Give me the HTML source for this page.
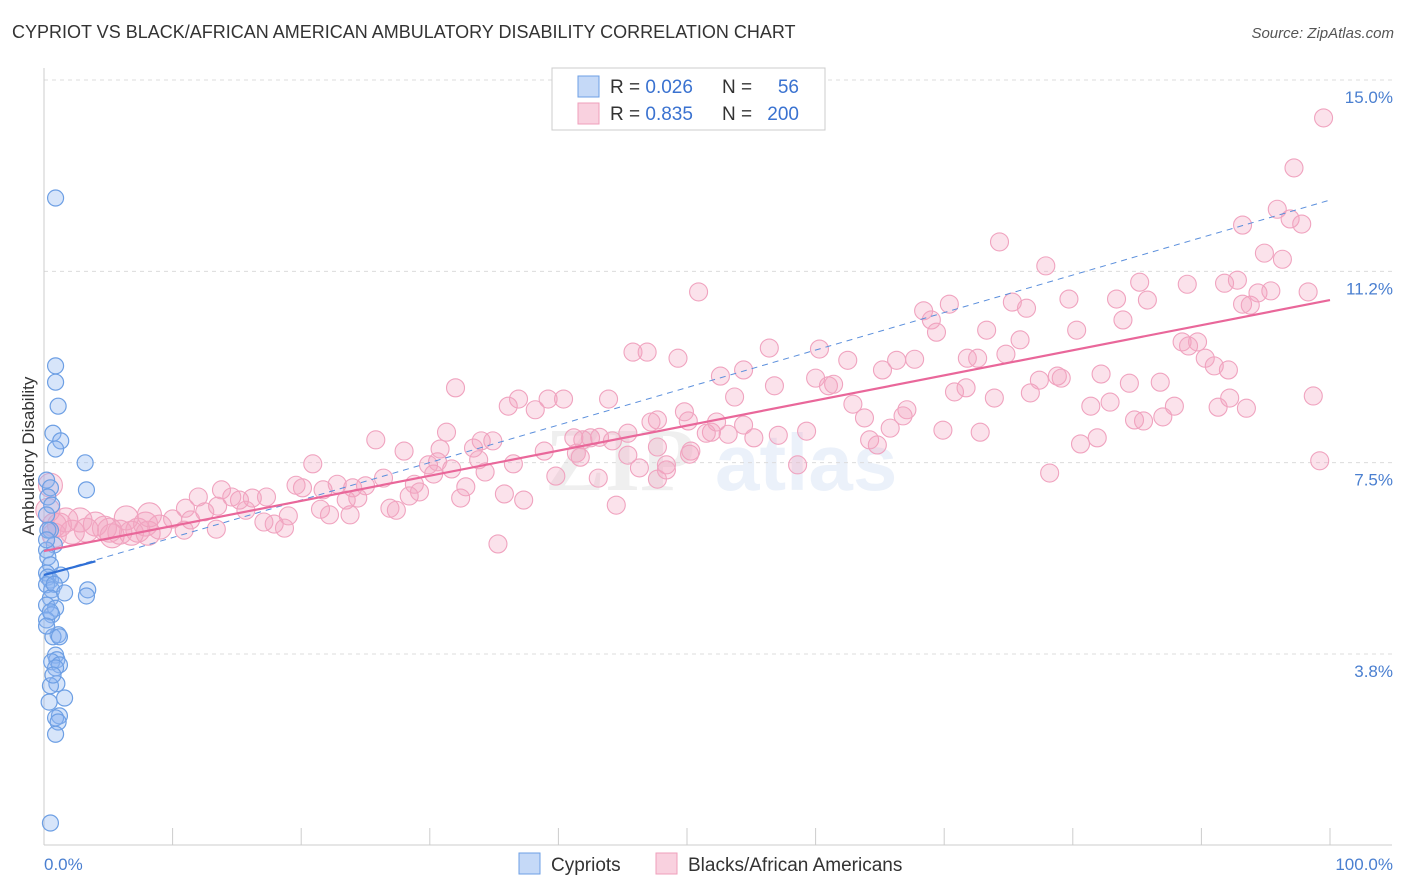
<!DOCTYPE html>
<html><head><meta charset="utf-8">
<style>
body{margin:0;background:#fff;font-family:"Liberation Sans",sans-serif;}
#wrap{position:relative;width:1406px;height:892px;overflow:hidden;}
.t{position:absolute;white-space:nowrap;}
</style></head><body>
<div id="wrap">
<div class="t" style="left:12px;top:22px;font-size:18px;color:#333;">CYPRIOT VS BLACK/AFRICAN AMERICAN AMBULATORY DISABILITY CORRELATION CHART</div>
<div class="t" style="right:12px;top:25px;font-size:15px;color:#555;font-style:italic;">Source: ZipAtlas.com</div>
<svg id="svg" width="1406" height="892" style="position:absolute;left:0;top:0"></svg>
</div>
<script>
const yTicks=[15.0,11.25,7.5,3.75];
const yTickLabels=["15.0%","11.2%","7.5%","3.8%"];
const xTickLabels=["0.0%","100.0%"];
const pinkX=[99.5,97.2,95.9,96.9,97.8,93.2,74.3,96.3,94.9,77.9,85.2,88.9,91.8,92.8,95.4,98.3,94.4,93.2,93.8,79.7,83.4,85.8,75.3,76.4,70.4,68.4,69.0,83.9,80.3,73.3,69.4,75.9,88.5,89.7,89.0,74.8,71.8,72.6,67.7,66.3,62.5,60.3,56.4,45.8,46.9,49.3,50.9,90.3,91.0,92.1,82.2,79.1,77.4,78.8,84.4,86.8,76.7,71.7,70.8,73.9,65.2,60.0,61.0,61.4,56.8,52.6,54.4,53.7,62.9,67.1,66.8,63.8,65.8,64.2,64.8,81.4,82.9,87.9,87.0,85.5,84.8,91.3,92.2,93.5,98.7,81.9,80.6,78.2,99.2,69.9,72.8,59.3,57.1,55.2,54.4,53.2,51.9,51.5,58.6,52.3,50.1,49.8,47.7,47.2,43.9,45.4,43.2,42.5,41.2,41.9,36.9,38.2,39.2,40.4,36.1,32.0,31.3,30.8,30.6,34.0,34.9,33.4,33.8,36.5,38.9,41.4,41.7,44.2,45.4,47.7,48.4,46.3,47.7,50.3,50.2,48.4,28.0,25.8,29.9,30.3,31.7,32.8,34.3,35.8,37.3,39.8,43.1,44.5,35.3,32.4,29.2,28.8,28.4,26.9,27.4,26.4,25.0,24.0,24.4,22.8,23.5,21.7,20.9,20.1,19.6,21.5,22.2,23.8,19.0,18.7,17.9,17.1,17.3,16.2,15.7,15.2,14.6,13.8,13.5,12.5,12.0,11.0,11.4,10.0,13.4,10.9,9.0,7.9,8.1,7.3,6.4,5.9,5.1,4.7,4.0,3.3,2.8,2.2,1.7,1.2,0.8,0.5,0.3,0.8,8.2,6.8,5.3];
const pinkY=[14.59,13.61,12.80,12.61,12.51,12.49,12.16,11.82,11.94,11.69,11.37,11.33,11.35,11.41,11.20,11.18,11.16,10.94,10.92,11.04,11.04,11.02,10.98,10.86,10.94,10.81,10.63,10.63,10.43,10.43,10.39,10.24,10.20,10.20,10.12,9.96,9.88,9.88,9.86,9.84,9.84,10.06,10.08,10.00,10.00,9.88,11.18,9.88,9.73,9.65,9.57,9.49,9.45,9.53,9.39,9.41,9.20,9.30,9.22,9.10,9.65,9.49,9.34,9.37,9.34,9.53,9.65,9.12,8.98,8.87,8.75,8.71,8.51,8.28,8.18,8.94,9.02,8.94,8.73,8.65,8.67,8.92,9.10,8.90,9.14,8.32,8.20,7.63,7.87,8.47,8.43,8.45,8.37,8.32,8.57,8.39,8.43,8.41,7.79,8.63,8.65,8.83,8.67,8.63,9.08,8.41,8.33,8.32,8.32,8.28,9.08,8.87,9.08,9.08,8.94,9.30,8.43,8.10,7.85,8.26,8.26,8.12,7.89,7.81,8.06,8.02,7.94,8.26,7.98,8.14,7.79,7.73,7.51,8.06,8.00,7.69,8.06,8.28,7.79,7.61,7.71,7.36,7.65,7.22,7.10,7.57,7.53,7.00,6.24,7.14,7.26,7.41,7.18,6.94,6.90,7.53,7.38,7.34,7.14,7.41,7.10,7.30,7.81,7.34,7.39,6.92,6.81,6.81,6.79,6.55,6.63,6.67,7.16,7.14,6.90,7.10,7.16,7.30,6.98,6.87,7.16,6.94,6.71,6.73,6.53,6.51,6.57,6.63,6.45,6.51,6.75,6.47,6.51,6.55,6.63,6.51,6.71,6.47,6.71,6.61,6.61,7.39,6.90,6.41,6.81,6.45,6.40];
const blueX=[0.9,0.9,0.9,1.1,0.7,1.3,0.9,3.2,3.3,0.2,0.5,0.3,0.6,0.2,0.5,0.8,0.2,0.3,0.5,0.2,0.3,0.5,1.3,0.2,0.6,0.8,3.4,3.3,1.6,0.5,0.2,0.9,0.6,0.2,1.1,0.7,1.2,0.9,1.0,0.6,1.2,0.9,1.0,0.5,1.6,1.2,0.9,1.1,0.9,0.5,0.3,0.2,0.5,0.2,0.7,0.4];
const blueY=[13.02,9.73,9.41,8.94,8.41,8.26,8.10,7.83,7.30,7.49,7.34,7.16,7.00,6.81,6.51,6.22,6.12,5.98,5.83,5.67,5.59,5.53,5.63,5.44,5.34,5.45,5.34,5.22,5.28,5.18,5.04,4.98,4.85,4.75,4.46,4.42,4.42,4.06,3.97,3.93,3.87,3.81,3.50,3.46,3.22,2.87,2.83,2.75,2.51,0.77,6.51,6.32,4.91,4.63,3.67,3.14];
const pinkTrend=[[0,6.1],[100,11.02]];
const blueTrend=[[0,5.63],[100,12.98]];
const blueSolid=[[0,5.63],[4,5.9]];

const NS="http://www.w3.org/2000/svg";
const svg=document.getElementById('svg');
const X0=44,X1=1330;
function xs(p){return X0+(X1-X0)*p/100;}
function ys(v){return 97+(15-v)*51.02;}
function mk(tag,attrs,parent){const e=document.createElementNS(NS,tag);for(const k in attrs)e.setAttribute(k,attrs[k]);(parent||svg).appendChild(e);return e;}

let wm=mk('text',{x:620,y:490,'text-anchor':'middle','font-size':90,'font-family':'Liberation Serif, serif','fill':'#000','opacity':0.06,'font-weight':'bold'});


wm.textContent='ZIP';
let wm2=mk('text',{x:715,y:490,'text-anchor':'start','font-size':80,'font-family':'Liberation Sans, sans-serif','fill':'#4a7fd0','opacity':0.10,'font-weight':'bold'});


wm2.textContent='atlas';

yTicks.forEach((t,i)=>{
  const gy=ys(t)-17;
  const g=mk('line',{x1:X0,x2:1392,y1:gy,y2:gy,stroke:'#dcdcdc','stroke-dasharray':'4,4','stroke-width':1});
  
  
  const tx=mk('text',{x:1393,y:ys(t)+6,'text-anchor':'end','font-size':17,fill:'#4a7fd0'});
  
  
  tx.textContent=yTickLabels[i];
});
let ax=mk('line',{x1:X0,x2:X0,y1:68,y2:845,stroke:'#ccc'});


let bx=mk('line',{x1:X0,x2:1392,y1:845,y2:845,stroke:'#ccc'});


for(let i=0;i<=10;i++){
  const tk=mk('line',{x1:xs(i*10),x2:xs(i*10),y1:828,y2:845,stroke:'#ccc'});
  
  
}
let xl0=mk('text',{x:44,y:870,'font-size':17,fill:'#4a7fd0'});


xl0.textContent=xTickLabels[0];
let xl1=mk('text',{x:1393,y:870,'text-anchor':'end','font-size':17,fill:'#4a7fd0'});


xl1.textContent=xTickLabels[1];
let yt=mk('text',{x:34,y:456,'text-anchor':'middle','font-size':17,fill:'#333',transform:'rotate(-90 34 456)'});


yt.textContent='Ambulatory Disability';

const nP=Math.min(pinkX.length,pinkY.length);
for(let i=0;i<nP;i++){
  const p=pinkX[i];
  const c=mk('circle',{cx:xs(p),cy:ys(pinkY[i]),r:p<10?12:9,fill:'rgba(244,164,192,0.32)',stroke:'#f0a3bf','stroke-width':1.1});
  
  
}
const nB=Math.min(blueX.length,blueY.length);
for(let i=0;i<nB;i++){
  const c=mk('circle',{cx:xs(blueX[i]),cy:ys(blueY[i]),r:8,fill:'rgba(140,180,240,0.35)',stroke:'#6d9fe4','stroke-width':1.2});
  
  
}
let bt=mk('line',{x1:xs(blueTrend[0][0]),y1:ys(blueTrend[0][1]),x2:xs(blueTrend[1][0]),y2:ys(blueTrend[1][1]),stroke:'#5b8fdc','stroke-width':1,'stroke-dasharray':'6,5'});


let pt=mk('line',{x1:xs(pinkTrend[0][0]),y1:ys(pinkTrend[0][1]),x2:xs(pinkTrend[1][0]),y2:ys(pinkTrend[1][1]),stroke:'#e9679a','stroke-width':2.2});


let bs=mk('line',{x1:xs(blueSolid[0][0]),y1:ys(blueSolid[0][1]),x2:xs(blueSolid[1][0]),y2:ys(blueSolid[1][1]),stroke:'#2f6fd6','stroke-width':2.2});



let lg=mk('rect',{x:552,y:68,width:273,height:62,fill:'#fff',stroke:'#ccc'});


const rows=[["0.026","56",'rgba(140,180,240,0.5)','#6d9fe4'],["0.835","200",'rgba(244,164,192,0.5)','#ef9fbb']];
rows.forEach((r,i)=>{
  const yy=86+i*27;
  const sq=mk('rect',{x:578,y:yy-10,width:21,height:21,fill:r[2],stroke:r[3]});
  
  
  const t=mk('text',{x:610,y:yy+7,'font-size':19,fill:'#333'});
  
  
  t.innerHTML='R = <tspan fill="#3a72d0">'+r[0]+'</tspan>';
  const t2=mk('text',{x:722,y:yy+7,'font-size':19,fill:'#333'});
  
  
  t2.innerHTML='N = <tspan x="799" text-anchor="end" fill="#3a72d0">'+r[1]+'</tspan>';
});
const bl=[[519,'Cypriots','rgba(140,180,240,0.5)','#6d9fe4'],[656,'Blacks/African Americans','rgba(244,164,192,0.5)','#ef9fbb']];
bl.forEach(b=>{
  const sq=mk('rect',{x:b[0],y:853,width:21,height:21,fill:b[2],stroke:b[3]});
  
  
  const t=mk('text',{x:b[0]+32,y:871,'font-size':19,fill:'#333'});
  
  
  t.textContent=b[1];
});
</script>
</body></html>
